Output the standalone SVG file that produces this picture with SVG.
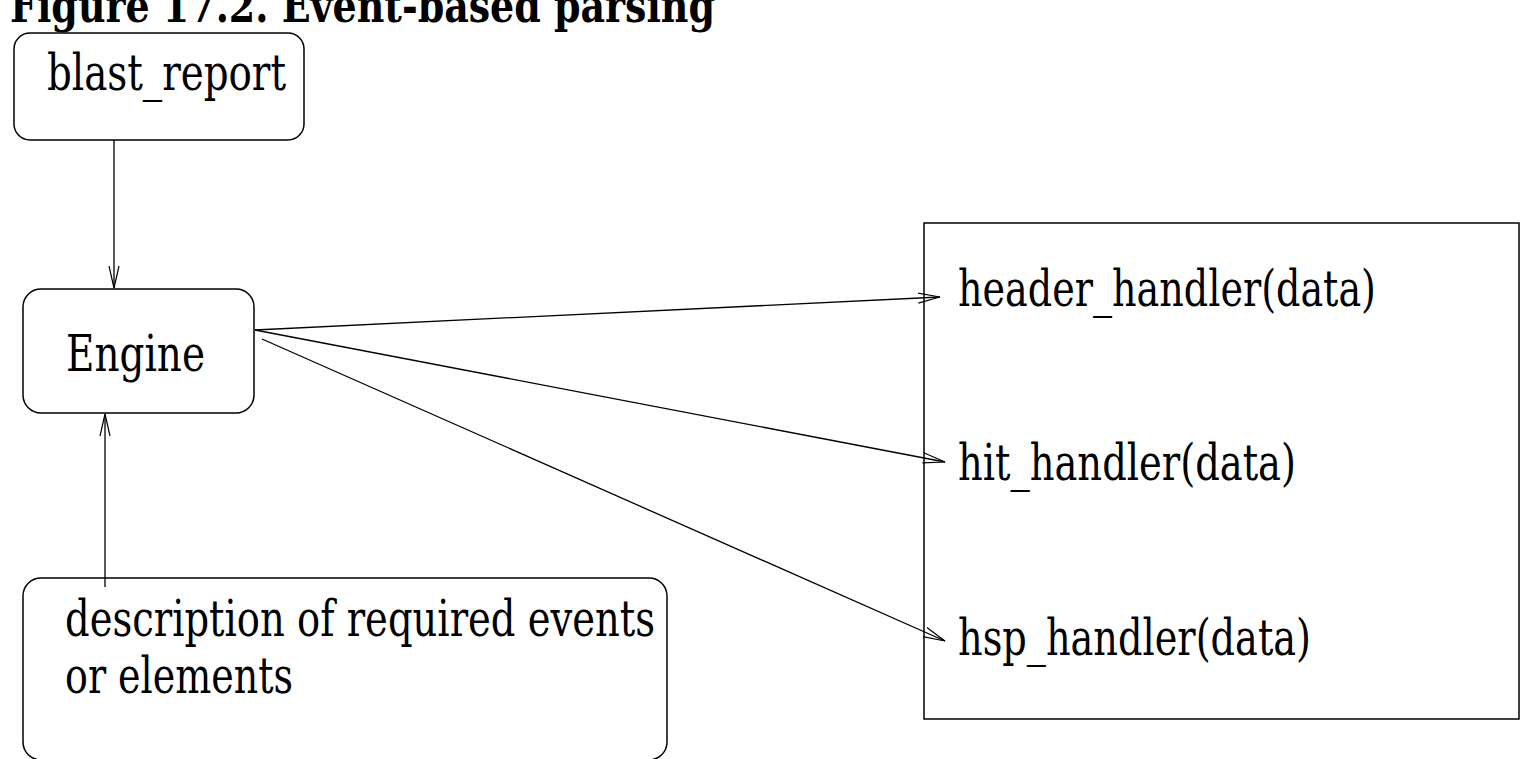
<svg xmlns="http://www.w3.org/2000/svg" width="1540" height="759" viewBox="0 0 1540 759">
<style>
.t{font-family:"DejaVu Serif Condensed","DejaVu Serif","Liberation Serif",serif;font-size:50px;fill:#000}
.title{font-family:"DejaVu Serif Condensed","DejaVu Serif","Liberation Serif",serif;font-size:46px;font-weight:bold;fill:#000}
.box{fill:#fff;stroke:#000;stroke-width:1.5}
.c{stroke:#000;stroke-width:1.3;fill:none}
</style>
<defs>
<marker id="arr" markerWidth="24" markerHeight="12" refX="22" refY="6" orient="auto" markerUnits="userSpaceOnUse">
<path d="M0,1 L22,6 L0,11" fill="none" stroke="#000" stroke-width="1.2"/>
</marker>
</defs>
<rect width="1540" height="759" fill="#fff"/>
<text class="title" x="10" y="22" textLength="705" lengthAdjust="spacingAndGlyphs">Figure 17.2. Event-based parsing</text>
<g id="blast_report">
<rect class="box" x="14" y="33" width="290" height="107" rx="16"/>
<text class="t" x="47" y="90" textLength="239" lengthAdjust="spacingAndGlyphs">blast_report</text>
</g>
<g id="engine">
<rect class="box" x="23" y="289" width="231" height="124" rx="18"/>
<text class="t" x="66" y="371" textLength="139" lengthAdjust="spacingAndGlyphs">Engine</text>
</g>
<g id="description">
<rect class="box" x="23" y="578" width="644" height="182" rx="18"/>
<text class="t" x="65" y="636" textLength="590" lengthAdjust="spacingAndGlyphs">description of required events</text>
<text class="t" x="65" y="693" textLength="228" lengthAdjust="spacingAndGlyphs">or elements</text>
</g>
<g id="handlers">
<rect class="box" x="924" y="223" width="595" height="496"/>
<text class="t" x="958" y="306" textLength="418" lengthAdjust="spacingAndGlyphs">header_handler(data)</text>
<text class="t" x="958" y="480" textLength="338" lengthAdjust="spacingAndGlyphs">hit_handler(data)</text>
<text class="t" x="958" y="655" textLength="353" lengthAdjust="spacingAndGlyphs">hsp_handler(data)</text>
</g>
<g id="connectors">
<line class="c" x1="114" y1="140" x2="114" y2="288" marker-end="url(#arr)"/>
<line class="c" x1="105" y1="587" x2="105" y2="414" marker-end="url(#arr)"/>
<line class="c" x1="255" y1="330" x2="940" y2="297" marker-end="url(#arr)"/>
<line class="c" x1="255" y1="330" x2="945" y2="462" marker-end="url(#arr)"/>
<line class="c" x1="262" y1="339" x2="945" y2="641" marker-end="url(#arr)"/>
</g>
</svg>
